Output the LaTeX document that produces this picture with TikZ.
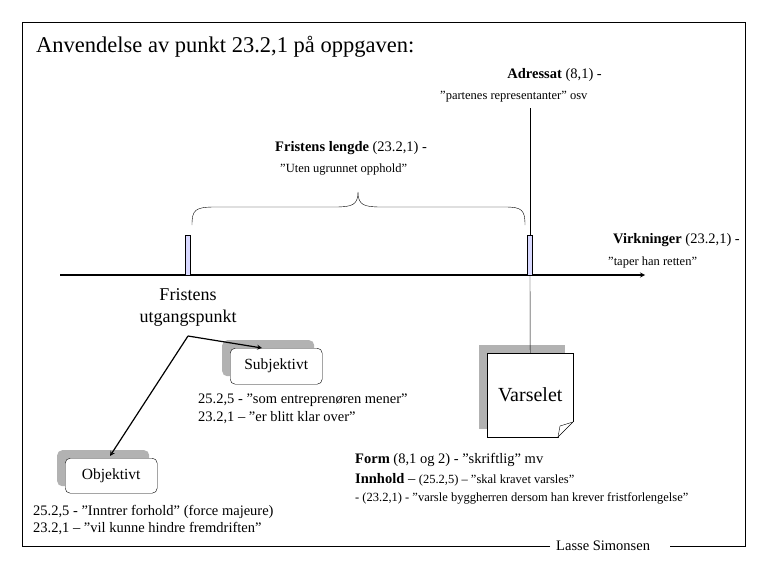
\documentclass[tikz,border=0pt]{standalone}
\usepackage{fontspec}
\setmainfont{Liberation Serif}
\begin{document}
\begin{tikzpicture}[x=1pt,y=-1pt,
  txt/.style={inner sep=0pt,font=\fontsize{14.5}{16}\selectfont},
  sml/.style={inner sep=0pt,font=\fontsize{12.5}{14}\selectfont},
  tick/.style={draw=black,fill=blue!15,minimum width=5pt,minimum height=40pt,inner sep=0pt},
  box/.style={draw,fill=white,rounded corners=5pt,font=\fontsize{15.5}{17}\selectfont,minimum height=36pt,minimum width=92pt},
  shadowbox/.style={fill=black!30,rounded corners=5pt,minimum height=36pt,minimum width=92pt},
  arr/.style={->,>=stealth,line width=1.2pt}]
\useasboundingbox (0,0) rectangle (765,570);
% frame
\draw (550,546) -- (22,546) -- (22,22) -- (745,22) -- (745,546) -- (670,546);
\node[txt,anchor=west] (lasse) at (556,546) {Lasse Simonsen};
\node[anchor=west,inner sep=0pt,font=\fontsize{22.5}{24}\selectfont] (title) at (36,47) {Anvendelse av punkt 23.2,1 på oppgaven:};
% timeline
\coordinate (t0) at (60,275);
\coordinate (t1) at (645,275);
\draw[->,>=stealth,line width=1.2pt] (t0) -- (t1);
\node[tick,anchor=south] (m1) at (188,275) {};
\node[tick,anchor=south] (m2) at (530,275) {};
% brace
\draw (192,225) .. controls (192,210) and (195,207) .. (215,207) -- (335,207)
  .. controls (352,207) and (358,205) .. (358,192)
  .. controls (358,205) and (364,207) .. (381,207) -- (505,207)
  .. controls (522,207) and (525,210) .. (525,225);
% labels
\node[txt,anchor=east] (adr) at (602,75) {\textbf{Adressat} (8,1) -};
\node[sml,anchor=west] (adr2) at (440,97) {”partenes representanter” osv};
\node[txt,anchor=west] (fl) at (275,148) {\textbf{Fristens lengde} (23.2,1) -};
\node[sml,anchor=west] (fl2) at (280,170) {”Uten ugrunnet opphold”};
\node[txt,anchor=east] (vi) at (740,240) {\textbf{Virkninger} (23.2,1) -};
\node[sml,anchor=west] (vi2) at (608,262) {”taper han retten”};
\node[align=center,inner sep=0pt,font=\fontsize{18}{22}\selectfont] (fu) at (188,307) {Fristens\\utgangspunkt};
\coordinate (split) at (188,336);
% boxes
\node[shadowbox,anchor=north west] (subs) at (222,340) {};
\node[box,anchor=north west] (sub) at (230,348) {Subjektivt};
\node[shadowbox,anchor=north west] (objs) at (57,450) {};
\node[box,anchor=north west,minimum height=35pt] (obj) at (65,458) {Objektivt};
\fill[black!30] (479,345) rectangle (565,429);
\node[draw,fill=white,anchor=north west,minimum width=86pt,minimum height=84pt,inner sep=0pt,font=\fontsize{20}{22}\selectfont] (var) at (487,353) {Varselet};
\fill[white] (573,437) -- (573,422) -- (558,437) -- cycle;
\draw[white,line width=1pt] (558.5,437.5) -- (573.5,437.5);
\draw[white,line width=1pt] (573.5,422) -- (573.5,437.5);
\draw (558,437) -- (573,422);
\draw (558,437) -- (560,426) -- (573,422);
\draw (m2.north) -- (530,108);
\draw (m2.south) -- (var.north);
% arrows
\draw[arr] (split) -- (262,348);
\draw[arr] (split) -- (110,456);
% texts
\node[txt,anchor=west] (s1) at (198,400) {25.2,5 - ”som entreprenøren mener”};
\node[txt,anchor=west] (s2) at (198,418) {23.2,1 -- ”er blitt klar over”};
\node[txt,anchor=west] (o1) at (33,512) {25.2,5 - ”Inntrer forhold” (force majeure)};
\node[txt,anchor=west] (o2) at (33,529) {23.2,1 -- ”vil kunne hindre fremdriften”};
\node[txt,anchor=west] (f1) at (355,460) {\textbf{Form} (8,1 og 2) - ”skriftlig” mv};
\node[txt,anchor=west] (f2) at (355,480) {\textbf{Innhold} -- {\fontsize{12.5}{14}\selectfont(25.2,5) -- ”skal kravet varsles”}};
\node[sml,anchor=west] (f3) at (355,498) {- (23.2,1) - ”varsle byggherren dersom han krever fristforlengelse”};
\end{tikzpicture}
\end{document}
